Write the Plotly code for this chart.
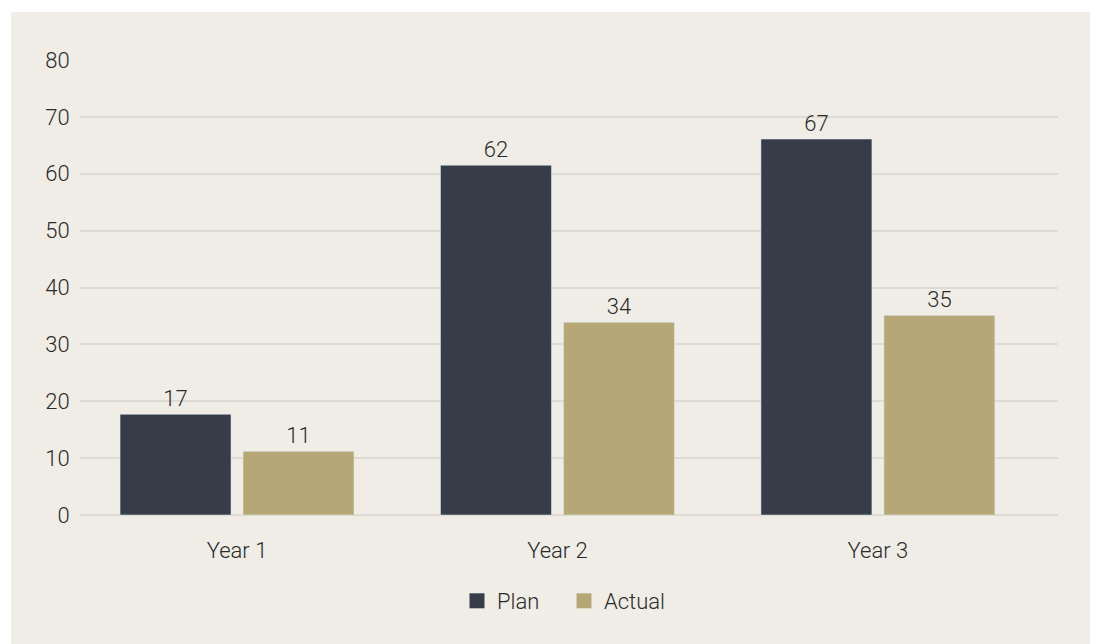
import plotly.graph_objects as go

categories = ["Year 1", "Year 2", "Year 3"]
plan_values = [17.7, 61.5, 66.1]
plan_labels = ["17", "62", "67"]
actual_values = [11.2, 33.9, 35.1]
actual_labels = ["11", "34", "35"]
y_ticks = [0, 10, 20, 30, 40, 50, 60, 70, 80]

BG = "#F0EDE6"
PLAN = "#363D48"
ACTUAL = "#B5A876"
GRID = "#DEDAD4"
TEXT = "#2A2A2A"
FONT = dict(family="Roboto", size=22, color=TEXT, weight=300)

fig = go.Figure()
fig.add_trace(go.Bar(x=categories, y=plan_values, name="Plan", marker_color=PLAN,
                     text=plan_labels, textposition="outside", cliponaxis=False,
                     textfont=FONT, showlegend=False))
fig.add_trace(go.Bar(x=categories, y=actual_values, name="Actual", marker_color=ACTUAL,
                     text=actual_labels, textposition="outside", cliponaxis=False,
                     textfont=FONT, showlegend=False))
# legend entries with square swatches
for name, color in [("Plan", PLAN), ("Actual", ACTUAL)]:
    fig.add_trace(go.Scatter(x=[None], y=[None], mode="markers", name=name,
                             marker=dict(symbol="square", size=15, color=color),
                             showlegend=True))

L, R, T, B = 72, 48, 52, 137
W, H = 1098, 644
pw, ph = W - L - R, H - T - B

fig.add_shape(type="rect", xref="paper", yref="paper", layer="below",
              x0=(3 - L) / pw, x1=(1084 - L) / pw,
              y0=(T + ph - H - 20) / ph, y1=(T + ph - 4) / ph,
              fillcolor=BG, line_width=0)

fig.update_layout(
    width=W, height=H,
    margin=dict(l=L, r=R, t=T, b=B),
    paper_bgcolor="white", plot_bgcolor="rgba(0,0,0,0)",
    font=FONT,
    barmode="group", bargap=0.2325, bargroupgap=0.0976,
    showlegend=True,
    legend=dict(orientation="h", x=0.5 - 5 / pw, xanchor="center",
                y=(T + ph - 593) / ph, yanchor="middle",
                font=FONT, itemwidth=30, entrywidth=62, entrywidthmode="pixels",
                bgcolor="rgba(0,0,0,0)"),
    xaxis=dict(range=[-0.49, 2.562], showgrid=False, showline=False,
               ticks="outside", ticklen=16,
               tickcolor="rgba(0,0,0,0)", tickfont=FONT, zeroline=False),
    yaxis=dict(range=[0, 80], tickvals=y_ticks, showgrid=True, gridcolor=GRID,
               gridwidth=1.5, zeroline=True, zerolinecolor=GRID, zerolinewidth=1.5,
               ticks="outside", ticklen=5, tickcolor="rgba(0,0,0,0)",
               tickfont=FONT, showline=False),
)

fig.write_html("out.html")
